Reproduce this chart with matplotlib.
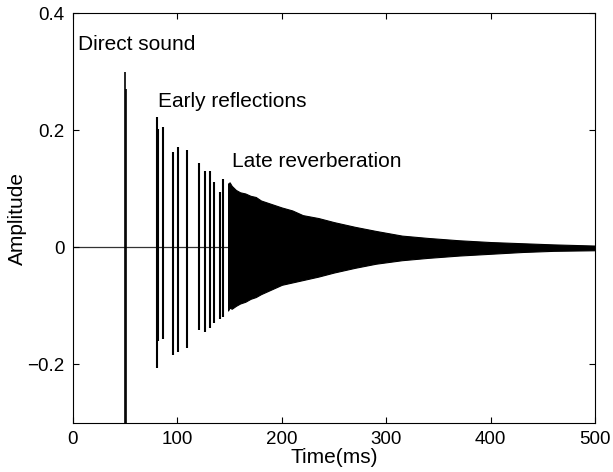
import matplotlib
matplotlib.use("Agg")
import matplotlib.pyplot as plt

plt.rcParams['font.family'] = ['Liberation Sans', 'DejaVu Sans']

# direct sound (ms, peak +, peak -)
direct_t = [50, 50.5]
direct_pos = [0.30, 0.27]
direct_neg = [-0.35, -0.35]

# early reflections
early_t = [80.5, 81.5, 86, 95.5, 101, 109.5, 121, 126, 131, 135.5, 140.5, 143.5]
early_pos = [0.222, 0.203, 0.205, 0.163, 0.172, 0.167, 0.144, 0.130, 0.131, 0.112, 0.094, 0.116]
early_neg = [-0.206, -0.160, -0.156, -0.184, -0.179, -0.172, -0.142, -0.145, -0.138, -0.130, -0.123, -0.119]

# late reverberation envelope
late_t = [148.5, 150, 152, 156, 160, 165, 170, 175, 180, 190, 200, 210, 220, 235, 250, 270, 290,
          315, 340, 370, 400, 430, 460, 500]
late_top = [0.109, 0.111, 0.105, 0.098, 0.094, 0.092, 0.088, 0.086, 0.080, 0.074, 0.068, 0.063,
            0.055, 0.050, 0.043, 0.035, 0.028, 0.020, 0.016, 0.012, 0.009, 0.007, 0.005, 0.003]
late_bot = [-0.108, -0.103, -0.105, -0.100, -0.096, -0.093, -0.088, -0.085, -0.080, -0.072,
            -0.064, -0.060, -0.056, -0.050, -0.043, -0.035, -0.028, -0.022, -0.018, -0.014,
            -0.011, -0.008, -0.006, -0.005]

fig = plt.figure(figsize=(6.13, 4.72), dpi=100)
ax = fig.add_axes([0.119, 0.104, 0.852, 0.868])

ax.axhline(0, color='#333333', lw=0.9, zorder=1)
ax.vlines(direct_t, direct_neg, direct_pos, color='black', lw=1.2, zorder=2)
ax.vlines(early_t, early_neg, early_pos, color='black', lw=1.5, zorder=2)
ax.fill_between(late_t, late_bot, late_top, color='black', lw=0.8, zorder=2)

ax.text(4.8, 0.347, 'Direct sound', fontsize=15, va='center')
ax.text(81, 0.25, 'Early reflections', fontsize=15, va='center')
ax.text(152, 0.147, 'Late reverberation', fontsize=15, va='center')

ax.set_xlim(0, 500)
ax.set_ylim(-0.3, 0.4)
ax.set_xticks([0, 100, 200, 300, 400, 500])
ax.set_yticks([-0.2, 0, 0.2, 0.4])
ax.set_yticklabels(['\u22120.2', '0', '0.2', '0.4'])
ax.tick_params(direction='in', top=True, right=True, labelsize=13.5, length=4, pad=6)
ax.set_xlabel('Time(ms)', fontsize=15, labelpad=0)
ax.set_ylabel('Amplitude', fontsize=15, labelpad=0)

fig.savefig('out.png', dpi=100)
